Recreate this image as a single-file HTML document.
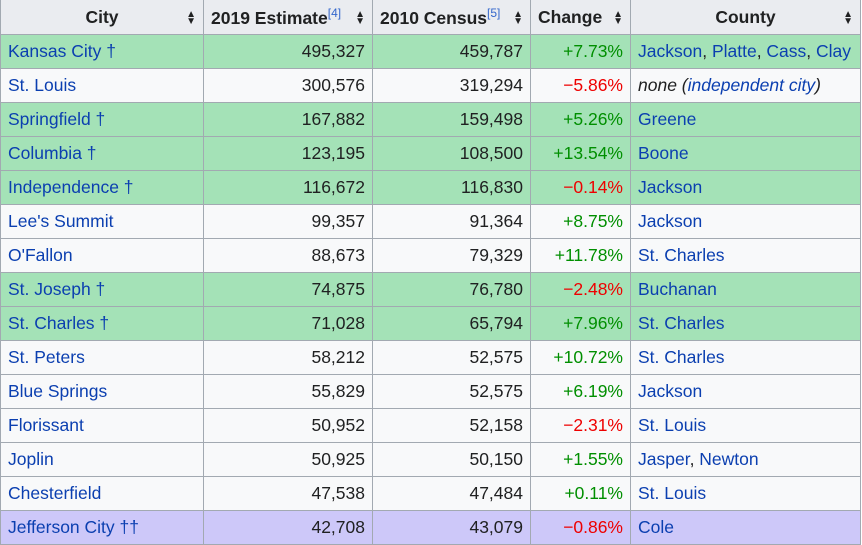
<!DOCTYPE html>
<html><head><meta charset="utf-8"><style>
body{margin:0;background:#fff;width:862px;height:544px;overflow:hidden;font-family:"Liberation Sans",Arial,sans-serif;}
table{border-collapse:collapse;table-layout:fixed;position:absolute;left:0;top:-1px;font-size:17.5px;color:#202122;}
td,th{border:1px solid #a2a9b1;height:34px;padding:0 7px;box-sizing:border-box;white-space:nowrap;overflow:hidden;}
th{background:#eaecf0;font-weight:bold;position:relative;text-align:center;height:35px;}
th .s{position:absolute;right:7px;top:11px;font-size:10px;line-height:7px;}
td{background:#f8f9fa;}
tr.g td{background:#a4e2b7;}
tr.p td{background:#cdc8f9;}
.n{text-align:right;}
a{color:#0b3fb0;text-decoration:none;}
.up{color:#008f00;text-align:right;}.dn{color:#ee0000;text-align:right;}
sup{font-size:12px;font-weight:normal;color:#3366cc;}
</style></head><body>
<table>
<colgroup><col style="width:203px"><col style="width:169px"><col style="width:158px"><col style="width:100px"><col style="width:230px"></colgroup>
<tr>
<th>City<span class="s">▲<br>▼</span></th>
<th style="text-align:left">2019 Estimate<sup>[4]</sup><span class="s">▲<br>▼</span></th>
<th style="text-align:left">2010 Census<sup>[5]</sup><span class="s">▲<br>▼</span></th>
<th style="text-align:left">Change<span class="s">▲<br>▼</span></th>
<th>County<span class="s">▲<br>▼</span></th>
</tr>
<tr class="g"><td><a href="#">Kansas City †</a></td><td class="n">495,327</td><td class="n">459,787</td><td class="up">+7.73%</td><td><a href="#">Jackson</a>, <a href="#">Platte</a>, <a href="#">Cass</a>, <a href="#">Clay</a></td></tr>
<tr><td><a href="#">St. Louis</a></td><td class="n">300,576</td><td class="n">319,294</td><td class="dn">−5.86%</td><td><i>none (<a href="#">independent city</a>)</i></td></tr>
<tr class="g"><td><a href="#">Springfield †</a></td><td class="n">167,882</td><td class="n">159,498</td><td class="up">+5.26%</td><td><a href="#">Greene</a></td></tr>
<tr class="g"><td><a href="#">Columbia †</a></td><td class="n">123,195</td><td class="n">108,500</td><td class="up">+13.54%</td><td><a href="#">Boone</a></td></tr>
<tr class="g"><td><a href="#">Independence †</a></td><td class="n">116,672</td><td class="n">116,830</td><td class="dn">−0.14%</td><td><a href="#">Jackson</a></td></tr>
<tr><td><a href="#">Lee's Summit</a></td><td class="n">99,357</td><td class="n">91,364</td><td class="up">+8.75%</td><td><a href="#">Jackson</a></td></tr>
<tr><td><a href="#">O'Fallon</a></td><td class="n">88,673</td><td class="n">79,329</td><td class="up">+11.78%</td><td><a href="#">St. Charles</a></td></tr>
<tr class="g"><td><a href="#">St. Joseph †</a></td><td class="n">74,875</td><td class="n">76,780</td><td class="dn">−2.48%</td><td><a href="#">Buchanan</a></td></tr>
<tr class="g"><td><a href="#">St. Charles †</a></td><td class="n">71,028</td><td class="n">65,794</td><td class="up">+7.96%</td><td><a href="#">St. Charles</a></td></tr>
<tr><td><a href="#">St. Peters</a></td><td class="n">58,212</td><td class="n">52,575</td><td class="up">+10.72%</td><td><a href="#">St. Charles</a></td></tr>
<tr><td><a href="#">Blue Springs</a></td><td class="n">55,829</td><td class="n">52,575</td><td class="up">+6.19%</td><td><a href="#">Jackson</a></td></tr>
<tr><td><a href="#">Florissant</a></td><td class="n">50,952</td><td class="n">52,158</td><td class="dn">−2.31%</td><td><a href="#">St. Louis</a></td></tr>
<tr><td><a href="#">Joplin</a></td><td class="n">50,925</td><td class="n">50,150</td><td class="up">+1.55%</td><td><a href="#">Jasper</a>, <a href="#">Newton</a></td></tr>
<tr><td><a href="#">Chesterfield</a></td><td class="n">47,538</td><td class="n">47,484</td><td class="up">+0.11%</td><td><a href="#">St. Louis</a></td></tr>
<tr class="p"><td><a href="#">Jefferson City ††</a></td><td class="n">42,708</td><td class="n">43,079</td><td class="dn">−0.86%</td><td><a href="#">Cole</a></td></tr>
</table>
</body></html>
